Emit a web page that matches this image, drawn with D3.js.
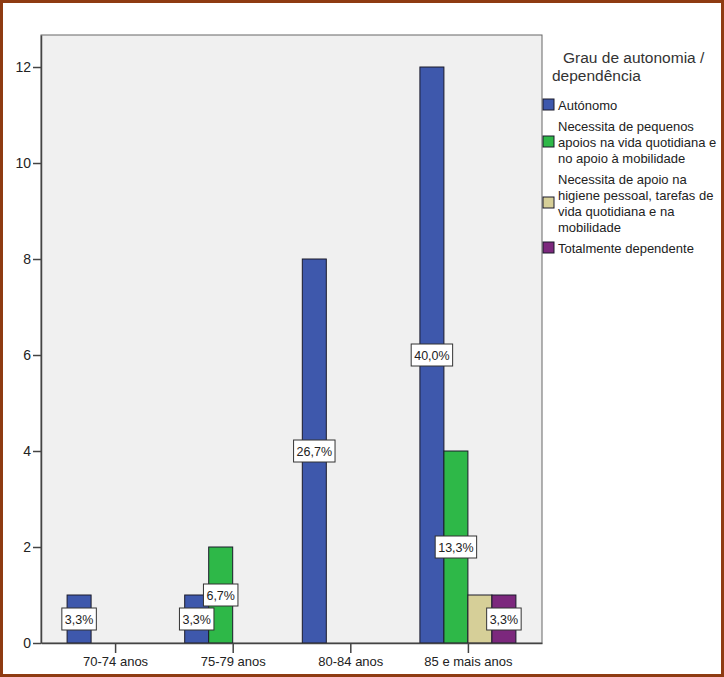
<!DOCTYPE html>
<html>
<head>
<meta charset="utf-8">
<script src="https://cdn.jsdelivr.net/npm/d3@7"></script>
<style>
  body { margin: 0; background: #fff; }
  svg { display: block; font-family: Arial, "Liberation Sans", sans-serif; }
</style>
</head>
<body>
<svg class="chart"></svg>
<script>
var width = 724,
    height = 677,
    margin = { top: 35, right: 182, bottom: 34, left: 41 }

// data
var ageGroups = ["70-74 anos", "75-79 anos", "80-84 anos", "85 e mais anos"]
var levels = [
    ["Autónomo"],
    ["Necessita de pequenos", "apoios na vida quotidiana e", "no apoio à mobilidade"],
    ["Necessita de apoio na", "higiene pessoal, tarefas de", "vida quotidiana e na", "mobilidade"],
    ["Totalmente dependente"]
]
// counts per age group, one value per level
var counts = [
    [1, 0, 0, 0],
    [1, 2, 0, 0],
    [8, 0, 0, 0],
    [12, 4, 1, 1]
]
// percentage labels shown on the bars (null = no label shown)
var pctLabels = [
    ["3,3%", null, null, null],
    ["3,3%", "6,7%", null, null],
    ["26,7%", null, null, null],
    ["40,0%", "13,3%", null, "3,3%"]
]
var yTicks = [0, 2, 4, 6, 8, 10, 12]
var colors = ["#3E58AC", "#2EB848", "#D6CF98", "#7C287D"]

var svg = d3.select(".chart")
    .attr("width", width)
    .attr("height", height)

// outer frame of the picture
svg.append("rect")
    .attr("x", 1.5).attr("y", 1.5)
    .attr("width", width - 3).attr("height", height - 3)
    .attr("fill", "#fff")
    .attr("stroke", "#8E3B12")
    .attr("stroke-width", 3)

var plotRight = width - margin.right,
    plotBottom = height - margin.bottom

var xScale = d3.scalePoint()
    .domain(ageGroups)
    .range([margin.left, plotRight])
    .padding(0.63)

var yScale = d3.scaleLinear()
    .domain([0, 12.667])
    .range([plotBottom, margin.top])

var barW = 24

// plot background
svg.append("rect")
    .attr("x", margin.left).attr("y", margin.top)
    .attr("width", plotRight - margin.left)
    .attr("height", plotBottom - margin.top)
    .attr("fill", "#F0F0F0")
    .attr("stroke", "#666")
    .attr("stroke-width", 1)

// bars
var groups = svg.append("g")
    .attr("class", "bars")
    .selectAll("g")
    .data(counts)
    .join("g")
    .attr("transform", (d, i) => `translate(${xScale(ageGroups[i]) - barW * 2},0)`)

groups.selectAll("rect")
    .data(d => d)
    .join("rect")
    .filter(d => d > 0)
    .attr("x", (d, j) => j * barW)
    .attr("y", d => yScale(d))
    .attr("width", barW)
    .attr("height", d => yScale(0) - yScale(d))
    .attr("fill", (d, j) => colors[j])
    .attr("stroke", "#1a1a2a")
    .attr("stroke-width", 1)

// axes
var yAxis = svg.append("g")
    .attr("class", "y axis")
    .attr("transform", `translate(${margin.left},0)`)
    .call(d3.axisLeft(yScale).tickValues(yTicks).tickSize(8).tickSizeOuter(0).tickPadding(2))
yAxis.selectAll("text").attr("font-size", 14).attr("fill", "#222")

var xAxis = svg.append("g")
    .attr("class", "x axis")
    .attr("transform", `translate(0,${plotBottom})`)
    .call(d3.axisBottom(xScale).tickSize(10).tickSizeOuter(0).tickPadding(4))
xAxis.selectAll("text").attr("font-size", 13).attr("fill", "#222")

svg.selectAll(".axis path, .axis line").attr("stroke", "#444").attr("stroke-width", 1.5)

// percentage labels
var labelData = []
counts.forEach((row, i) => {
    row.forEach((v, j) => {
        if (pctLabels[i][j]) labelData.push({ i: i, j: j, v: v, text: pctLabels[i][j] })
    })
})

var labels = svg.append("g")
    .attr("class", "labels")
    .selectAll("g")
    .data(labelData)
    .join("g")
    .attr("transform", d => `translate(${xScale(ageGroups[d.i]) - barW * 2 + d.j * barW + barW / 2},${yScale(d.v / 2)})`)

labels.append("text")
    .attr("text-anchor", "middle")
    .attr("dy", "0.36em")
    .attr("font-size", 12.5)
    .attr("fill", "#222")
    .text(d => d.text)

labels.each(function () {
    var g = d3.select(this),
        bb = g.select("text").node().getBBox()
    g.insert("rect", "text")
        .attr("x", bb.x - 3)
        .attr("y", -11)
        .attr("width", bb.width + 6)
        .attr("height", 22)
        .attr("fill", "#fff")
        .attr("stroke", "#333")
        .attr("stroke-width", 1)
})

// legend
var legend = svg.append("g")
    .attr("class", "legend")
    .attr("transform", `translate(${plotRight},0)`)

legend.append("text")
    .attr("x", 21).attr("y", 63)
    .attr("font-size", 15.5)
    .attr("fill", "#333")
    .text("Grau de autonomia /")
legend.append("text")
    .attr("x", 10).attr("y", 81)
    .attr("font-size", 15.5)
    .attr("fill", "#333")
    .text("dependência")

var lineH = 16,
    itemGap = 5,
    yPos = 97

levels.forEach((lines, j) => {
    var blockH = lines.length * lineH
    legend.append("rect")
        .attr("x", 1)
        .attr("y", yPos + blockH / 2 - 6)
        .attr("width", 11)
        .attr("height", 11)
        .attr("fill", colors[j])
        .attr("stroke", "#1a1a2a")
        .attr("stroke-width", 1)
    legend.append("g")
        .selectAll("text")
        .data(lines)
        .join("text")
        .attr("x", 16)
        .attr("y", (d, k) => yPos + k * lineH + lineH / 2)
        .attr("dy", "0.35em")
        .attr("font-size", 13)
        .attr("fill", "#222")
        .text(d => d)
    yPos += blockH + itemGap
})
</script>
</body>
</html>
